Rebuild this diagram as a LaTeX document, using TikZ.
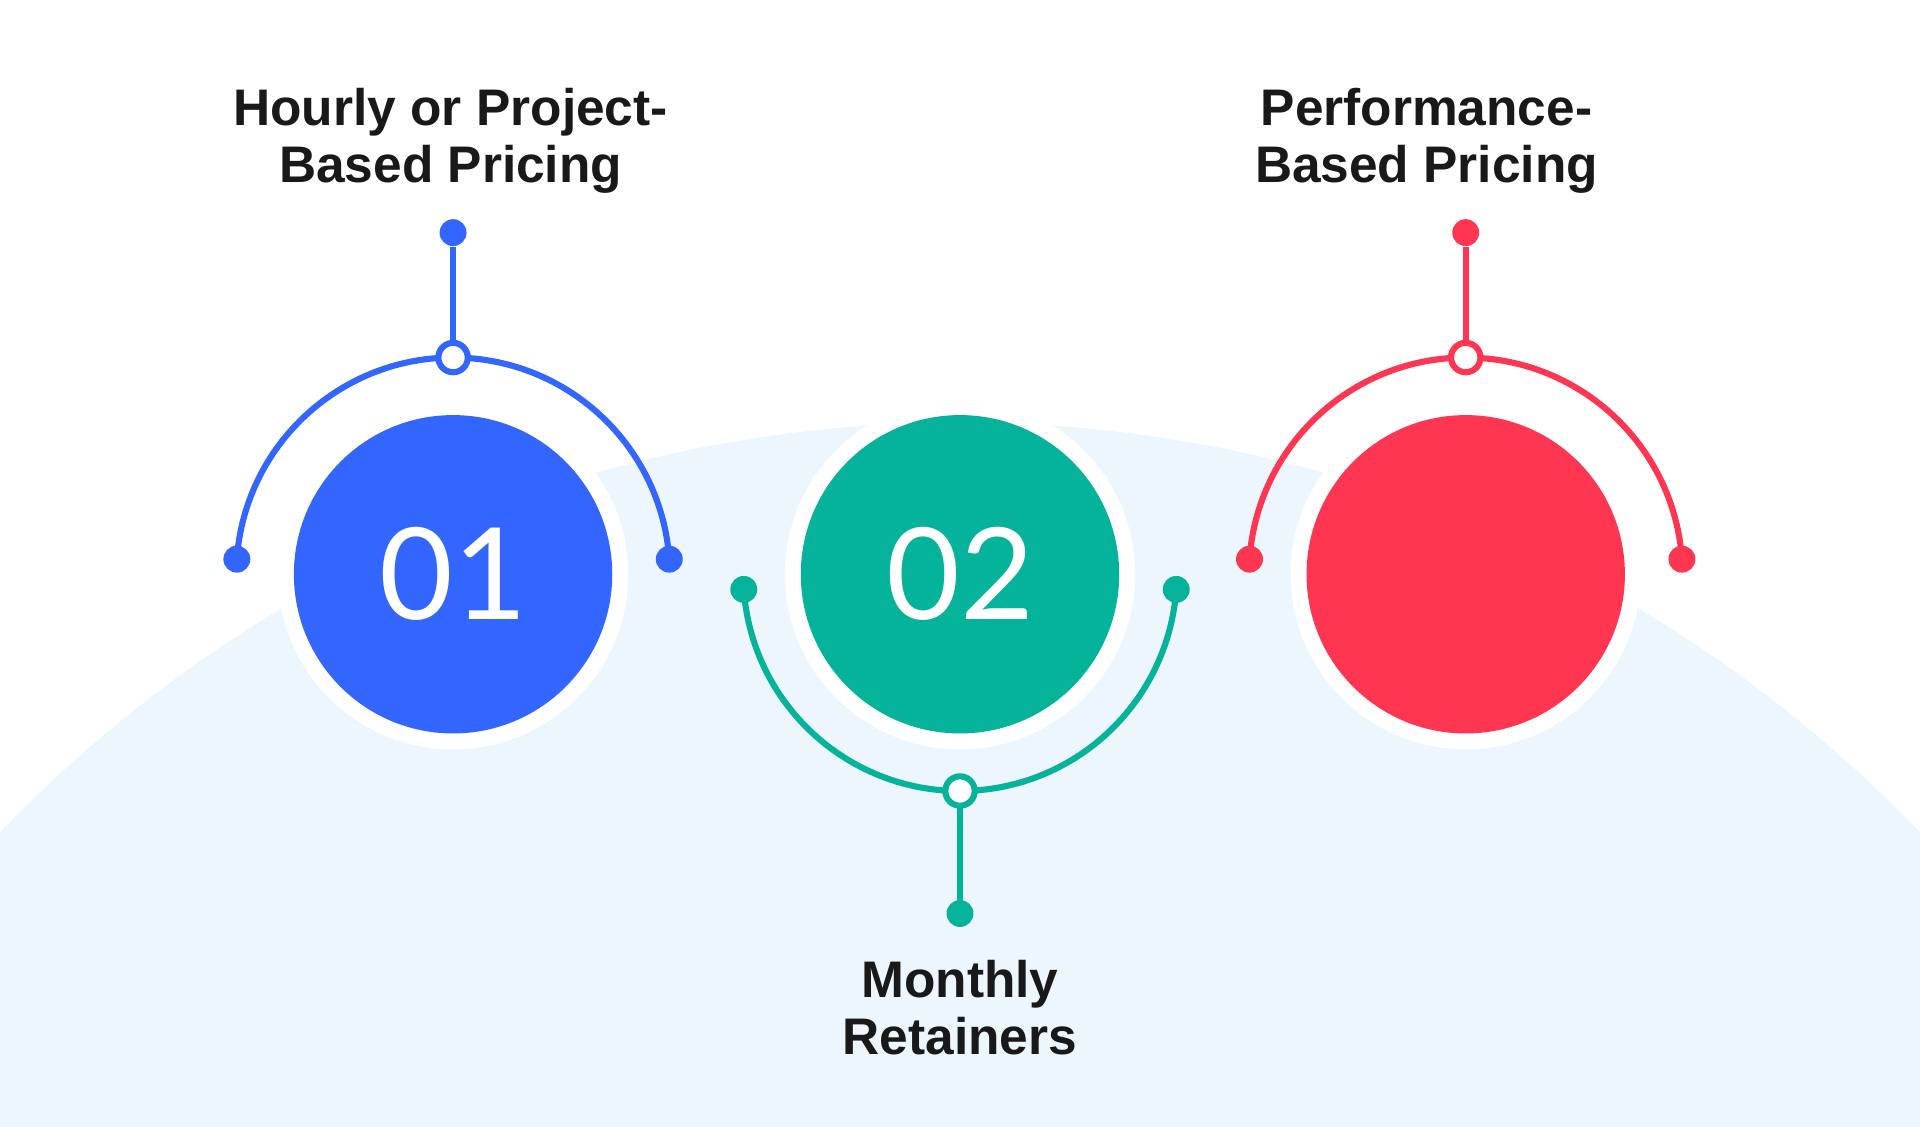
\documentclass[tikz,border=0pt]{standalone}
\usetikzlibrary{calc}
\usepackage{fontspec}
\setmainfont{Liberation Sans}
\newfontfamily\numfont{Lato}
\definecolor{cblue}{HTML}{3366FF}
\definecolor{cgreen}{HTML}{05B39A}
\definecolor{cred}{HTML}{FF3651}
\definecolor{cbg}{HTML}{EEF6FD}
\begin{document}
\begin{tikzpicture}[x=0.5pt,y=0.5pt,
  ring/.style={circle,fill=white,minimum size=143pt,inner sep=0},
  disc/.style={circle,minimum size=130pt,inner sep=0,text=white,font=\numfont\fontsize{52}{52}\selectfont},
  dotend/.style={circle,fill=#1,minimum size=11pt,inner sep=0},
  hollow/.style={circle,fill=white,draw=#1,line width=2.5pt,minimum size=12pt,inner sep=0},
  conn/.style={draw=#1,line width=2.5pt},
  lbl/.style={align=center,font=\bfseries\fontsize{21}{23}\selectfont,text=black!90}]
\useasboundingbox (0,0) rectangle (1568,920);
\fill[white] (0,0) rectangle (1568,920);
\begin{scope}
\clip (0,0) rectangle (1568,920);
\fill[cbg] (784,-510) circle[radius=1085];
\end{scope}
% rings
\node[ring] (r1) at (370,451) {};
\node[ring] (r2) at (784,451) {};
\node[ring] (r3) at (1197,451) {};
\node[disc,fill=cblue] (c1) at (370,451) {01};
\node[disc,fill=cgreen] (c2) at (784,451) {02};
\node[disc,fill=cred] (c3) at (1197,451) {};
% blue
\coordinate (b1l) at ($(370,451)+(176:177)$);
\coordinate (b1r) at ($(370,451)+(4:177)$);
\coordinate (b1t) at (370,628);
\draw[conn=cblue] (b1l) arc[start angle=176,end angle=4,radius=177];
\node[dotend=cblue] (d1t) at (370,730) {};
\draw[conn=cblue] (d1t) -- (b1t);
\node[hollow=cblue] (h1) at (b1t) {};
\node[dotend=cblue] (d1l) at (b1l) {};
\node[dotend=cblue] (d1r) at (b1r) {};
% green
\coordinate (g2l) at ($(784,451)+(184:177)$);
\coordinate (g2r) at ($(784,451)+(356:177)$);
\coordinate (g2b) at (784,274);
\draw[conn=cgreen] (g2l) arc[start angle=184,end angle=356,radius=177];
\node[dotend=cgreen] (d2b) at (784,174) {};
\draw[conn=cgreen] (d2b) -- (g2b);
\node[hollow=cgreen] (h2) at (g2b) {};
\node[dotend=cgreen] (d2l) at (g2l) {};
\node[dotend=cgreen] (d2r) at (g2r) {};
% red
\coordinate (r3l) at ($(1197,451)+(176:177)$);
\coordinate (r3r) at ($(1197,451)+(4:177)$);
\coordinate (r3t) at (1197,628);
\draw[conn=cred] (r3l) arc[start angle=176,end angle=4,radius=177];
\node[dotend=cred] (d3t) at (1197,730) {};
\draw[conn=cred] (d3t) -- (r3t);
\node[hollow=cred] (h3) at (r3t) {};
\node[dotend=cred] (d3l) at (r3l) {};
\node[dotend=cred] (d3r) at (r3r) {};
% labels
\node[lbl] (t1) at (368,805) {Hourly or Project-\\Based Pricing};
\node[lbl] (t3) at (1165,805) {Performance-\\Based Pricing};
\node[lbl] (t2) at (784,97) {Monthly\\Retainers};
\end{tikzpicture}
\end{document}
